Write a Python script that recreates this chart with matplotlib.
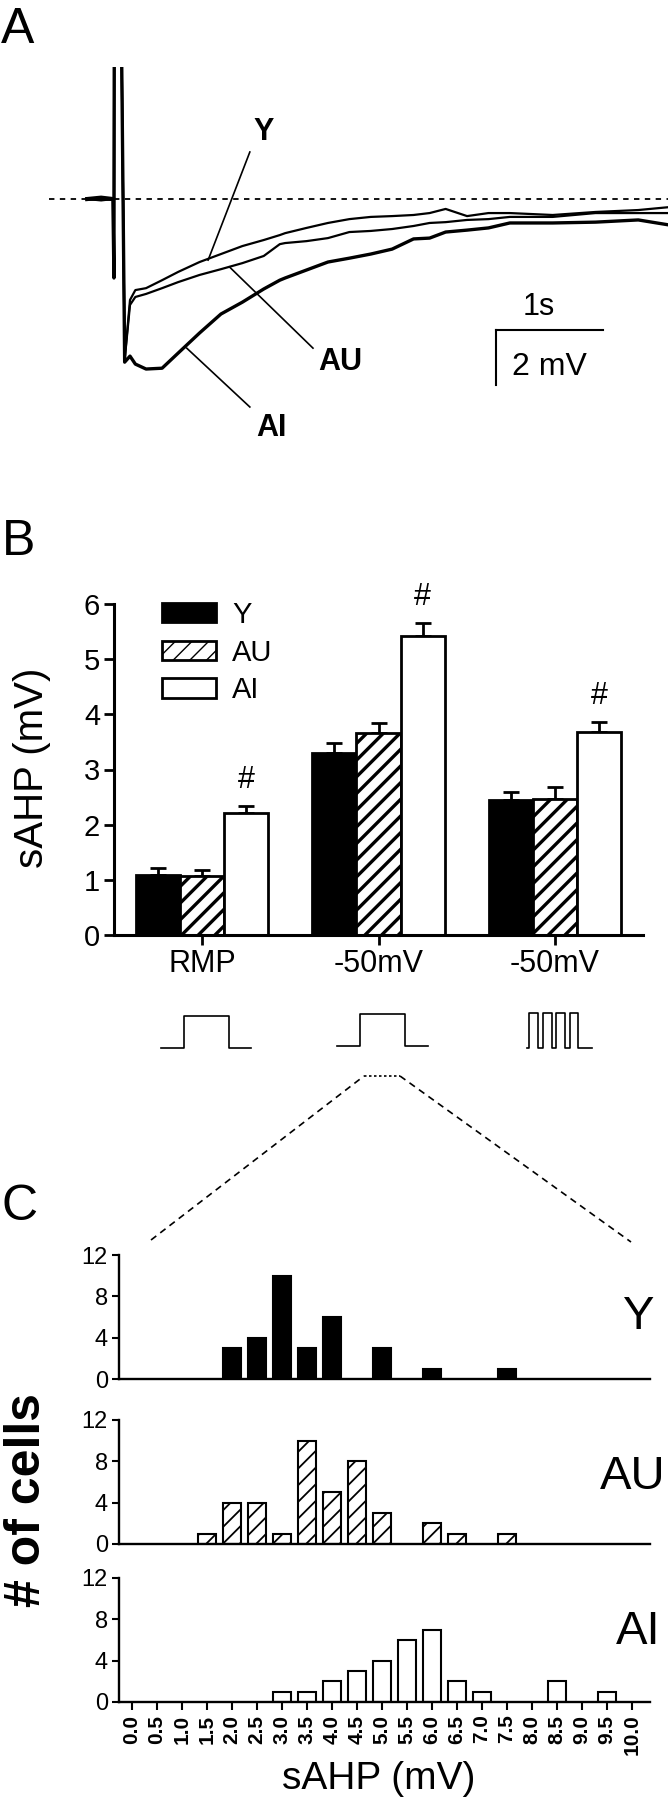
import numpy as np
import matplotlib
matplotlib.use("Agg")
import matplotlib.pyplot as plt
from matplotlib.lines import Line2D

plt.rcParams['font.family'] = ['Liberation Sans', 'DejaVu Sans']

W, H = 668, 1800

# ---- panel A: sAHP traces (s after the train, mV from rest) ----
trace_t = [-0.25, -0.12, -0.01, 0.0, 0.005, 0.055, 0.1, 0.15, 0.2, 0.3, 0.45, 0.6,
           0.8, 1.0, 1.2, 1.4, 1.55, 1.6, 1.8, 2.0, 2.2, 2.4, 2.6, 2.8, 2.95, 3.1,
           3.3, 3.5, 3.7, 4.1, 4.5, 4.9, 5.2]
trace_y = [0.0, 0.05, 0.0, 0.0, 12, 12, -5.85, -3.67, -3.31, -3.24, -2.95, -2.65,
           -2.29, -2.0, -1.71, -1.49, -1.31, -1.24, -1.05, -0.87, -0.73, -0.65, -0.62,
           -0.58, -0.51, -0.36, -0.62, -0.51, -0.51, -0.58, -0.47, -0.40, -0.29]
trace_au = [0.0, -0.05, 0.0, 0.0, 12, 12, -5.85, -3.85, -3.56, -3.45, -3.24, -3.02,
            -2.76, -2.55, -2.33, -2.07, -1.64, -1.6, -1.53, -1.42, -1.2, -1.16, -1.09,
            -0.98, -0.87, -0.84, -0.76, -0.73, -0.65, -0.65, -0.51, -0.51, -0.51]
trace_ai = [0.0, 0.0, 0.0, -2.87, 12, 12, -5.93, -5.71, -6.0, -6.18, -6.15, -5.6,
            -4.87, -4.18, -3.75, -3.27, -2.95, -2.87, -2.58, -2.29, -2.15, -2.0, -1.82,
            -1.45, -1.42, -1.2, -1.13, -1.05, -0.87, -0.87, -0.84, -0.76, -0.95]

# ---- panel B: mean sAHP +/- SEM ----
conditions = ['RMP', '-50mV', '-50mV']
mean_y = [1.09, 3.30, 2.45]
mean_au = [1.07, 3.66, 2.46]
mean_ai = [2.21, 5.42, 3.68]
sem_y = [0.12, 0.18, 0.14]
sem_au = [0.11, 0.18, 0.22]
sem_ai = [0.13, 0.23, 0.18]

# stimulus protocols (schematic)
step_t = [0, 1, 1, 3, 3, 4]
step_v = [0, 0, 1, 1, 0, 0]
train_t = [0, 0.12, 0.12, 0.68, 0.68, 0.98, 0.98, 1.54, 1.54, 1.78, 1.78, 2.34,
           2.34, 2.65, 2.65, 3.14, 3.14, 4.0]
train_v = [0, 0, 1, 1, 0, 0, 1, 1, 0, 0, 1, 1, 0, 0, 1, 1, 0, 0]

# ---- panel C: distributions (-50 mV, single step) ----
bin_centers = np.arange(0, 10.01, 0.5)
counts_y = [0, 0, 0, 0, 3, 4, 10, 3, 6, 0, 3, 0, 1, 0, 0, 1, 0, 0, 0, 0, 0]
counts_au = [0, 0, 0, 1, 4, 4, 1, 10, 5, 8, 3, 0, 2, 1, 0, 1, 0, 0, 0, 0, 0]
counts_ai = [0, 0, 0, 0, 0, 0, 1, 1, 2, 3, 4, 6, 7, 2, 1, 0, 0, 2, 0, 1, 0]


def fx(x):
    return x / W


def fy(y):
    return 1 - y / H


def box(x0, y0, x1, y1):
    return [fx(x0), fy(y1), (x1 - x0) / W, (y1 - y0) / H]


fig = plt.figure(figsize=(W / 100, H / 100), dpi=100)

# panel letters
fig.text(fx(1), fy(43), 'A', fontsize=36, va='baseline')
fig.text(fx(2), fy(555), 'B', fontsize=36, va='baseline')
fig.text(fx(1), fy(1220), 'C', fontsize=36, va='baseline')

# ================= A =================
axA = fig.add_axes(box(49, 67, 668, 440))
axA.set_xlim(-0.607, 5.178)
axA.set_ylim(-8.76, 4.8)
axA.axis('off')
axA.axhline(0, color='k', lw=1.3, ls=(0, (3, 3)))
axA.plot(trace_t[:3], trace_y[:3], color='k', lw=3)
axA.plot(trace_t, trace_y, color='k', lw=1.6)
axA.plot(trace_t, trace_au, color='k', lw=1.6)
axA.plot(trace_t, trace_ai, color='k', lw=2.4)

# scale bar 1 s / 2 mV
axA.plot([3.57, 4.57], [-4.76, -4.76], color='k', lw=1.5)
axA.plot([3.57, 3.57], [-4.76, -6.76], color='k', lw=1.5)
axA.text(3.97, -3.93, '1s', fontsize=22, ha='center', va='center')
axA.text(4.07, -6.11, '2 mV', fontsize=23, ha='center', va='center')

# trace labels
axA.text(1.40, 2.44, 'Y', fontsize=22, fontweight='bold', ha='center', va='center')
axA.plot([1.27, 0.88], [1.71, -2.22], color='k', lw=1.2)
axA.text(2.12, -5.93, 'AU', fontsize=22, fontweight='bold', ha='center', va='center')
axA.plot([1.86, 1.08], [-5.42, -2.47], color='k', lw=1.2)
axA.text(1.47, -8.33, 'AI', fontsize=22, fontweight='bold', ha='center', va='center')
axA.plot([1.27, 0.68], [-7.56, -5.42], color='k', lw=1.2)

# ================= B =================
axB = fig.add_axes(box(114, 604, 643, 935))
x = np.arange(len(conditions))
w = 0.25
with plt.rc_context({'hatch.linewidth': 2.4}):
    bY = axB.bar(x - w, mean_y, w, color='k', edgecolor='k', lw=2, label='Y')
    bAU = axB.bar(x, mean_au, w, color='w', edgecolor='k', lw=2, hatch='//', label='AU')
    bAI = axB.bar(x + w, mean_ai, w, color='w', edgecolor='k', lw=2, label='AI')
for off, m, s in [(-w, mean_y, sem_y), (0, mean_au, sem_au), (w, mean_ai, sem_ai)]:
    axB.errorbar(x + off, m, yerr=[[0] * len(m), s], fmt='none', ecolor='k',
                 elinewidth=2, capsize=6, capthick=2, zorder=0)
for i in range(len(conditions)):
    axB.text(x[i] + w, mean_ai[i] + sem_ai[i] + 0.47, '#', fontsize=22,
             ha='center', va='center')

axB.set_xlim(-0.5, 2.5)
axB.set_ylim(0, 6)
axB.set_yticks(range(7))
axB.set_xticks(x)
axB.set_xticklabels(conditions, fontsize=22)
axB.tick_params(axis='y', labelsize=21, length=7, width=2, pad=3)
axB.tick_params(axis='x', length=7, width=2, pad=3)
for side in ['top', 'right']:
    axB.spines[side].set_visible(False)
for side in ['left', 'bottom']:
    axB.spines[side].set_linewidth(2.2)
fig.text(fx(32), fy(768), 'sAHP (mV)', rotation=90, fontsize=29, ha='center', va='center')

axB.legend(handles=[bY, bAU, bAI], loc='upper left', bbox_to_anchor=(fx(162), fy(601)),
           bbox_transform=fig.transFigure, frameon=False, fontsize=21,
           handlelength=1.85, handleheight=0.65, handletextpad=0.55,
           labelspacing=0.33, borderpad=0, borderaxespad=0)

# stimulus icons
for (x0, y0, x1, y1), st, sv in [((161, 1016, 251, 1048), step_t, step_v),
                                  ((337, 1014, 428, 1046), step_t, step_v),
                                  ((527, 1013, 592, 1048), train_t, train_v)]:
    ax = fig.add_axes(box(x0, y0, x1, y1))
    ax.plot(st, sv, color='k', lw=1.2, clip_on=False)
    ax.set_xlim(0, 4)
    ax.set_ylim(0, 1)
    ax.axis('off')

# zoom lines towards the distributions
fig.add_artist(Line2D([fx(151), fx(364)], [fy(1240), fy(1076)], color='k', lw=1.2,
                      ls=(0, (4, 3))))
fig.add_artist(Line2D([fx(364), fx(400)], [fy(1076), fy(1076)], color='k', lw=1.2,
                      ls=(0, (1.5, 1.5))))
fig.add_artist(Line2D([fx(400), fx(631)], [fy(1076), fy(1242)], color='k', lw=1.2,
                      ls=(0, (4, 3))))

# ================= C =================
hist_specs = [
    ((1255, 1379), counts_y, 'k', None, 'Y', (639, 1317)),
    ((1420, 1544), counts_au, 'w', '//', 'AU', (633, 1477)),
    ((1578, 1702), counts_ai, 'w', None, 'AI', (638, 1632)),
]
for k, ((top, bot), counts, fc, hatch, name, (lx, ly)) in enumerate(hist_specs):
    ax = fig.add_axes(box(119, top, 650, bot))
    counts = np.array(counts)
    nz = counts > 0
    with plt.rc_context({'hatch.linewidth': 1.3}):
        ax.bar(bin_centers[nz], counts[nz], 0.37, color=fc, edgecolor='k', lw=1.5,
               hatch=hatch)
    ax.set_xlim(-0.26, 10.36)
    ax.set_ylim(0, 12)
    ax.set_yticks([0, 4, 8, 12])
    for side in ['top', 'right']:
        ax.spines[side].set_visible(False)
    for side in ['left', 'bottom']:
        ax.spines[side].set_linewidth(1.7)
    ax.tick_params(axis='y', labelsize=17, length=5, width=1.5, pad=3)
    if k == len(hist_specs) - 1:
        ax.set_xticks(bin_centers)
        ax.set_xticklabels([f'{b:.1f}' for b in bin_centers], rotation=90,
                           fontsize=15, fontweight='bold')
        ax.tick_params(axis='x', length=6, width=1.5, pad=3)
    else:
        ax.set_xticks([])
    fig.text(fx(lx), fy(ly), name, fontsize=34, ha='center', va='center')

fig.text(fx(27), fy(1500), '# of cells', rotation=90, fontsize=36, fontweight='bold',
         ha='center', va='center')
fig.text(fx(379), fy(1779), 'sAHP (mV)', fontsize=28, ha='center', va='center')

fig.savefig('out.png', dpi=100)
